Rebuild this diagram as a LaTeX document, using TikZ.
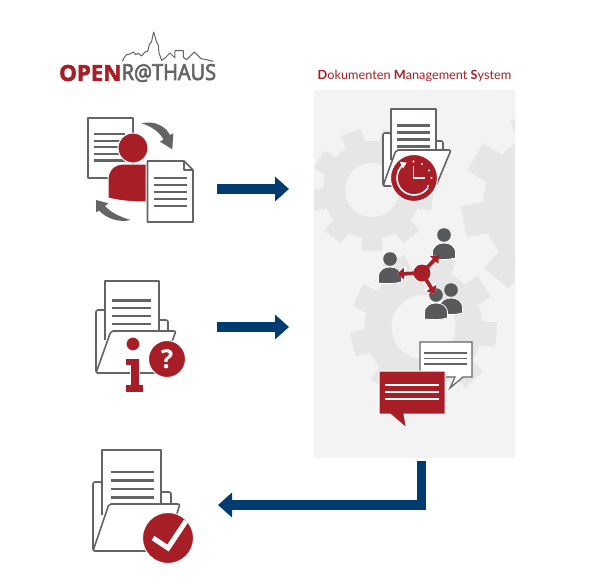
\documentclass[tikz,border=0pt]{standalone}
\usepackage{fontspec}
\setmainfont{Open Sans}
\newfontfamily\titlefont{Lato}
\newfontfamily\logobold[FakeBold=2.5,FakeStretch=1.01]{Open Sans Bold}
\newfontfamily\logoreg[FakeBold=3,FakeStretch=0.91]{Open Sans}
\usetikzlibrary{arrows.meta}
\definecolor{brandred}{HTML}{A81E26}
\definecolor{brandgray}{HTML}{636464}
\definecolor{darkgray}{HTML}{58595A}
\definecolor{brandblue}{HTML}{003C70}
\definecolor{panelgray}{HTML}{F3F3F3}
\definecolor{geargray}{HTML}{E6E6E6}
\tikzset{
  outline/.style={draw=brandgray,line width=1.6pt,line join=round,fill=white},
  folderline/.style={outline,rounded corners=2pt},
  textline/.style={draw=brandgray,line width=2.2pt},
  flowarrow/.style={draw=brandblue,line width=9.5pt,-{Triangle[length=14pt,width=24pt]}},
  spoke/.style={draw=brandred,line width=3.8pt,-{Triangle[length=7pt,width=11pt]}},
  spokehalo/.style={draw=white,line width=5.8pt,-{Triangle[length=9pt,width=14pt]}},
}
% gear: cx cy root outer inner teeth rotation
\newcommand{\gearshape}[7]{%
  \begin{scope}[shift={(#1,#2)}]
    \fill[geargray] (0,0) circle (#3);
    \pgfmathsetmacro{\gstep}{360/#6}
    \foreach \gi in {1,...,#6}{
      \pgfmathsetmacro{\ga}{#7+\gi*\gstep}
      \fill[geargray] (\ga-0.31*\gstep:#3-2) -- (\ga-0.235*\gstep:#4) -- (\ga+0.235*\gstep:#4) -- (\ga+0.31*\gstep:#3-2) -- cycle;
    }
    \fill[panelgray] (0,0) circle (#5);
  \end{scope}}
\newcommand{\textlines}[5]{% xL xR y0 dy n
  \foreach \li in {1,...,#5}{ \draw[textline] (#1,#3+\li*#4-#4) -- (#2,#3+\li*#4-#4); }}
\newcommand{\personshape}[3]{% head x, head y, scale
  \begin{scope}[shift={(#1,#2)},scale=#3]
    \fill[darkgray,draw=white,line width=.8pt] (-11.5,24) -- (-11.5,18) .. controls (-11.5,11) and (-6,8) .. (0,8) .. controls (6,8) and (11.5,11) .. (11.5,18) -- (11.5,23) .. controls (4,25) and (-4,25) .. (-11.5,24) -- cycle;
    \fill[darkgray] (0,0) circle (6.8);
  \end{scope}}
\begin{document}
\begin{tikzpicture}[x=1pt,y=-1pt]
\useasboundingbox (0,0) rectangle (600,586);
\fill[white] (0,0) rectangle (600,586);

% --- logo
\node[anchor=west,inner sep=0,text=brandred,font=\logobold\fontsize{22}{22}\selectfont] (logoopen) at (59,73) {OPEN};
\node[anchor=west,inner sep=0,text=brandgray,font=\logoreg\fontsize{22}{22}\selectfont] (logorat) at (121.5,73) {R@THAUS};
\begin{scope}[shift={(115,28)},x=.3333pt,y=-.3333pt]
\draw[brandgray,line width=1pt,line join=round] (22,100) -- (28,88) -- (35,80) -- (45,78) -- (55,72) -- (62,80) -- (70,76) -- (80,84) -- (90,72) -- (98,70) -- (103,50) -- (110,40) -- (113,25) -- (116,12) -- (120,25) -- (124,40) -- (130,52) -- (132,75) -- (140,97) -- (152,88) -- (165,75) -- (180,90) -- (180,68) -- (205,68) -- (205,88) -- (215,95) -- (238,72) -- (258,92) -- (275,95) -- (295,100);
\end{scope}

% --- title
\node[anchor=center,inner sep=0,text=brandred,font=\titlefont\fontsize{12.7}{14}\selectfont] (title) at (414.5,76) {\textbf{D}okumenten \textbf{M}anagement \textbf{S}ystem};

% --- panel and gears
\begin{scope}
\clip (314,90) rectangle (515,458);
\fill[panelgray] (314,90) rectangle (515,458);
\gearshape{372}{190}{49}{62}{27}{9}{10}
\gearshape{558}{205}{75}{97}{42}{9}{10}
\gearshape{423.5}{327}{59}{74}{32}{9}{6}
\end{scope}

% --- top-left person and documents
\draw[outline] (88,118) rectangle (133,178);
\textlines{94}{125}{134}{6.6}{5}
\fill[brandgray] (141.7,123.3) .. controls (155,120) and (166,127) .. (170,135) -- (173.3,133.3) -- (172.3,149.3) -- (160,141.7) -- (163.5,139.5) .. controls (159,131) and (150,126) .. (141.7,123.3) -- cycle;
\fill[brandgray] (130.7,220) .. controls (118,223) and (106,218) .. (99,210.5) -- (96,212.3) -- (96,200) -- (108.3,203.3) -- (105,206) .. controls (110,212) and (120,217) .. (130.7,220) -- cycle;
\fill[brandred,draw=white,line width=1pt] (108,198) -- (108,180) .. controls (108,170) and (114,164) .. (124,164) -- (146,164) -- (146,202) .. controls (132,202) and (120,201) .. (108,198) -- cycle;
\fill[brandred,draw=white,line width=1pt] (133,148) circle (15);
\draw[outline] (147.5,161) -- (184,161) -- (193,170) -- (193,222) -- (147.5,222) -- cycle;
\draw[draw=brandgray,line width=1.2pt,line join=round] (184,161) -- (184,170) -- (193,170);
\textlines{153.5}{187}{178}{7}{5}

% --- info folder
\draw[folderline] (96,373) -- (96,310) -- (106,310) -- (106,320) -- (168,320) -- (168,335) -- (100,373) -- cycle;
\draw[outline] (105,340) -- (105,281) -- (159,281) -- (159,340);
\textlines{112}{151}{300.5}{7.8}{4}
\draw[folderline] (96,373) -- (111,331) -- (176,331) -- (160,373) -- cycle;
\fill[brandred,draw=white,line width=1pt] (133,344) circle (7);
\fill[brandred,draw=white,line width=1pt] (125,358) -- (139,358) -- (139,384) -- (143,384) -- (143,392) -- (125,392) -- (125,384) -- (130,384) -- (130,365) -- (125,365) -- cycle;
\fill[brandred,draw=white,line width=1pt] (167,359) circle (18.5);
\node[text=white,inner sep=0,font=\bfseries\fontsize{26}{26}\selectfont] (qmark) at (167,359) {?};

% --- done folder
\draw[folderline] (93,551) -- (93,482) -- (102,482) -- (102,492) -- (171,492) -- (171,510) -- (100,551) -- cycle;
\draw[outline] (102,515) -- (102,450) -- (161,450) -- (161,515);
\textlines{110.5}{153.5}{472}{8.5}{4}
\draw[folderline] (93,551) -- (109,504) -- (180,504) -- (165,551) -- cycle;
\fill[brandred,draw=white,line width=1pt] (168,538) circle (25.5);
\draw[draw=white,line width=5pt] (153,538) -- (168,548) -- (186,521);

% --- clock folder
\draw[folderline] (383,186) -- (383,133) -- (391,133) -- (391,141) -- (443,141) -- (443,155) -- (390,186) -- cycle;
\draw[outline] (391,160) -- (391,109) -- (436,109) -- (436,160);
\textlines{397}{430}{125.5}{7}{4}
\draw[folderline] (383,186) -- (396,150) -- (451,150) -- (436,186) -- cycle;
\fill[brandred,draw=white,line width=1pt] (414,178) circle (23.5);
\draw[white,line width=1.6pt,-{Triangle[length=6pt,width=7pt]}] (414,178) +(35:17) arc (35:245:17);
\draw[white,line width=1.6pt] (413.5,166) -- (413.5,178) -- (425,178);
\foreach \dx/\dy in {-0.5/-16.5,8/-14,15/-7.5,17.5/0,14/8}{ \fill[white] (414+\dx,178+\dy) circle (1.2); }

% --- people
\personshape{444}{235}{1}
\personshape{390}{259}{1}
\personshape{451}{290}{1}
\personshape{436}{295}{1}
\coordinate (hub) at (422,273);
\coordinate (pa) at (439,255);
\coordinate (pb) at (397,274);
\coordinate (pc) at (435,294);
\foreach \tgt in {pa,pb,pc}{ \draw[spokehalo] (hub) -- (\tgt); }
\fill[white] (hub) circle (9.5);
\foreach \tgt in {pa,pb,pc}{ \draw[spoke] (hub) -- (\tgt); }
\fill[brandred] (hub) circle (8.5);

% --- speech bubbles
\draw[fill=white,draw=brandgray,line width=1.2pt,line join=miter] (420,342) -- (472,342) -- (472,377) -- (463,377) -- (450,388) -- (455,377) -- (420,377) -- cycle;
\foreach \yy in {353,358.5,364}{ \draw[draw=brandgray,line width=1.8pt] (424,\yy) -- (467,\yy); }
\fill[brandred,draw=white,line width=1pt] (379,371) -- (445,371) -- (445,414) -- (404,414) -- (406.5,428) -- (390,414) -- (379,414) -- cycle;
\foreach \yy in {385,392,399}{ \draw[draw=white,line width=2pt] (385,\yy) -- (439,\yy); }

% --- flow arrows
\coordinate (a1s) at (216.5,189);
\coordinate (a1e) at (289,189);
\coordinate (a2s) at (216.5,327);
\coordinate (a2e) at (289,327);
\coordinate (a3s) at (421.7,461);
\coordinate (a3c) at (421.7,505);
\coordinate (a3e) at (218,505);
\draw[flowarrow] (a1s) -- (a1e);
\draw[flowarrow] (a2s) -- (a2e);
\draw[flowarrow,line join=miter] (a3s) -- (a3c) -- (a3e);
\end{tikzpicture}
\end{document}
